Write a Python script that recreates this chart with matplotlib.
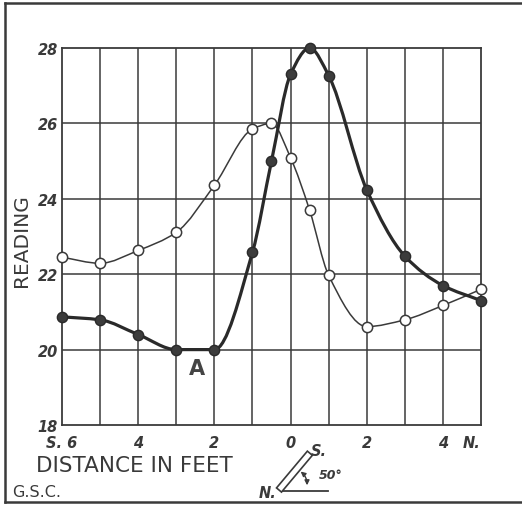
import numpy as np
import matplotlib
matplotlib.use("Agg")
import matplotlib.pyplot as plt
from matplotlib.path import Path
from matplotlib.patches import PathPatch, Polygon, FancyArrowPatch
from matplotlib.lines import Line2D

# ---- data ----
x_open = [-6, -5, -4, -3, -2, -1, -0.5, 0, 0.5, 1, 2, 3, 4, 5]
y_open = [22.45, 22.29, 22.63, 23.11, 24.36, 25.85, 26.0, 25.09, 23.7, 21.97, 20.61, 20.79, 21.17, 21.6]

x_fill = [-6, -5, -4, -3, -2, -1, -0.5, 0, 0.5, 1, 2, 3, 4, 5]
y_fill = [20.87, 20.79, 20.40, 20.0, 20.0, 22.58, 25.0, 27.3, 28.0, 27.27, 24.24, 22.48, 21.7, 21.3]

x_ticks = [-6, -4, -2, 0, 2, 4, 4.75]
x_ticklabels = ["S. 6", "4", "2", "0", "2", "4", "N."]
y_ticks = [18, 20, 22, 24, 26, 28]
y_ticklabels = ["18", "20", "22", "24", "26", "28"]

W, H = 522, 506
fig = plt.figure(figsize=(W / 100, H / 100), dpi=100)
fig.patch.set_facecolor("white")

def fx(x):
    return x / W

def fy(y):
    return 1 - y / H

ax = fig.add_axes([fx(62), fy(426), fx(481) - fx(62), fy(49) - fy(426)])
ax.set_xlim(-6, 5)
ax.set_ylim(18, 28)
ink = "#3a3a3a"
for s in ax.spines.values():
    s.set_color(ink)
    s.set_linewidth(1.3)

for xv in range(-5, 5):
    ax.axvline(xv, color=ink, lw=1.1, zorder=1)
for yv in [20, 22, 24, 26]:
    ax.axhline(yv, color=ink, lw=1.1, zorder=1)

ax.set_xticks(x_ticks)
ax.set_xticklabels(x_ticklabels)
ax.set_yticks(y_ticks)
ax.set_yticklabels(y_ticklabels)
ax.tick_params(length=0, labelsize=10.5, colors=ink)
ax.xaxis.set_tick_params(pad=7)
ax.yaxis.set_tick_params(pad=3)
for lab in ax.get_xticklabels() + ax.get_yticklabels():
    lab.set_fontstyle("italic")
    lab.set_fontweight("bold")
    lab.set_family("DejaVu Sans")
ax.get_xticklabels()[0].set_x(-6.35)
for lab in ax.get_yticklabels():
    if lab.get_text() == "18":
        lab.set_verticalalignment("center_baseline")


def smooth_path(xs, ys):
    """Monotone (PCHIP-style) cubic through the points, as Bezier segments."""
    x = np.asarray(xs, float)
    y = np.asarray(ys, float)
    h = np.diff(x)
    dlt = np.diff(y) / h
    n = len(x)
    m = np.zeros(n)
    for i in range(1, n - 1):
        if dlt[i - 1] * dlt[i] <= 0:
            m[i] = 0.0
        else:
            w1 = 2 * h[i] + h[i - 1]
            w2 = h[i] + 2 * h[i - 1]
            m[i] = (w1 + w2) / (w1 / dlt[i - 1] + w2 / dlt[i])
    m[0] = dlt[0]
    m[-1] = dlt[-1]
    verts = [(x[0], y[0])]
    codes = [Path.MOVETO]
    for i in range(n - 1):
        verts += [(x[i] + h[i] / 3, y[i] + m[i] * h[i] / 3),
                  (x[i + 1] - h[i] / 3, y[i + 1] - m[i + 1] * h[i] / 3),
                  (x[i + 1], y[i + 1])]
        codes += [Path.CURVE4] * 3
    return Path(verts, codes)


ax.add_patch(PathPatch(smooth_path(x_open, y_open), fc="none", ec=ink, lw=1.1, zorder=3))
ax.add_patch(PathPatch(smooth_path(x_fill, y_fill), fc="none", ec="#2a2a2a", lw=2.3, zorder=4, clip_on=False))
ax.plot(x_open, y_open, "o", ms=7.4, mfc="white", mec=ink, mew=1.1, zorder=5, clip_on=False)
ax.plot(x_fill, y_fill, "o", ms=7.4, mfc="#3c3c3c", mec="#2a2a2a", mew=1.0, zorder=6, clip_on=False)

ax.text(-2.45, 19.52, "A", fontsize=15, fontweight="bold", color="#444444", ha="center", va="center",
        family="DejaVu Sans")

# labels
fig.text(fx(22), fy(241), "READING", rotation=90, ha="center", va="center", fontsize=14.5,
         color=ink, family="DejaVu Sans")
fig.text(fx(36), fy(466), "DISTANCE IN FEET", ha="left", va="center", fontsize=15.5, color=ink,
         family="DejaVu Sans")
fig.text(fx(12), fy(493), "G.S.C.", ha="left", va="center", fontsize=11.5, color=ink,
         family="DejaVu Sans")

# outer frame
frame = [((5, 4), (5, 503)), ((5, 4), (521, 4)), ((5, 503), (521, 503))]
for (a, b) in frame:
    fig.add_artist(Line2D([fx(a[0]), fx(b[0])], [fy(a[1]), fy(b[1])], color=ink, lw=1.8,
                          transform=fig.transFigure))

# dip symbol
ang = np.deg2rad(50)
base = np.array([279.0, 491.0])
L, wdt = 48.0, 6.5
d = np.array([np.cos(ang), -np.sin(ang)])
nrm = np.array([np.sin(ang), np.cos(ang)]) * wdt / 2
corners = [base - nrm, base + d * L - nrm, base + d * L + nrm, base + nrm]
fig.add_artist(Polygon([(fx(c[0]), fy(c[1])) for c in corners], closed=True, fc="white", ec=ink,
                       lw=1.2, transform=fig.transFigure))
fig.add_artist(Line2D([fx(283), fx(328)], [fy(491.5), fy(491.5)], color=ink, lw=1.3,
                      transform=fig.transFigure))
r = 28
p_start = base + r * np.array([np.cos(np.deg2rad(46)), -np.sin(np.deg2rad(46))])
p_end = base + r * np.array([np.cos(np.deg2rad(4)), -np.sin(np.deg2rad(4))])
fig.add_artist(FancyArrowPatch((fx(p_start[0]), fy(p_start[1])), (fx(p_end[0]), fy(p_end[1])),
                               connectionstyle="arc3,rad=-0.3", arrowstyle="<|-|>", mutation_scale=7,
                               color=ink, lw=1.0, transform=fig.transFigure))
fig.text(fx(311), fy(452), "S.", fontsize=10.5, fontweight="bold", fontstyle="italic", color=ink,
         ha="left", va="center", family="DejaVu Sans")
fig.text(fx(259), fy(494), "N.", fontsize=10.5, fontweight="bold", fontstyle="italic", color=ink,
         ha="left", va="center", family="DejaVu Sans")
fig.text(fx(331), fy(476), "50°", fontsize=9, fontweight="bold", fontstyle="italic", color=ink,
         ha="center", va="center", family="DejaVu Sans")

fig.savefig("out.png", dpi=100, facecolor="white")
